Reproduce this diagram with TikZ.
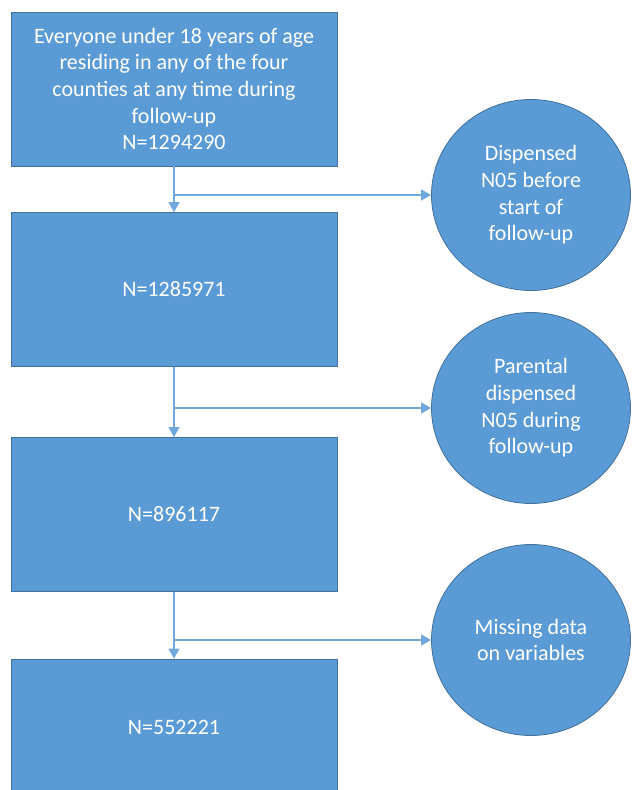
\documentclass[tikz,border=0pt]{standalone}
\usepackage{fontspec}
\setmainfont{Carlito}
\usetikzlibrary{arrows.meta,shapes.geometric}

\definecolor{boxfill}{HTML}{5B9BD5}
\definecolor{boxline}{HTML}{41719C}
\definecolor{flowline}{HTML}{6FA8DC}

\tikzset{
  stagebox/.style={draw=boxline, fill=boxfill, text=white, line width=0.8pt,
    minimum width=326pt, minimum height=154pt, inner sep=0pt, align=center,
    font=\fontsize{22}{26.7}\selectfont},
  exclusion/.style={ellipse, draw=boxline, fill=boxfill, text=white, line width=0.8pt,
    minimum width=199pt, minimum height=191pt, inner sep=0pt, align=center,
    font=\fontsize{22}{26.7}\selectfont},
  flow/.style={draw=flowline, line width=1.2pt, -{Triangle[length=10pt,width=11pt]}}
}

\begin{document}
\begin{tikzpicture}[x=1pt,y=1pt]
  \clip (0,0) rectangle (632,-790);
  \useasboundingbox (0,0) rectangle (632,-790);

  % cohort boxes
  \node[stagebox] (everyone) at (174,-89) {Everyone under 18 years of age\\residing in any of the four\\counties at any time during\\follow-up\\N=1294290};
  \node[stagebox] (afterbefore) at (174,-289.5) {N=1285971};
  \node[stagebox] (afterparental) at (174,-514.5) {N=896117};
  \node[stagebox, minimum height=136pt] (final) at (174,-727) {N=552221};

  % exclusions
  \node[exclusion] (before) at (531,-195) {Dispensed\\N05 before\\start of\\follow-up};
  \node[exclusion] (parental) at (531,-408) {Parental\\dispensed\\N05 during\\follow-up};
  \node[exclusion] (missing) at (531,-640) {Missing data\\on variables};

  \draw[flow] (everyone) -- (afterbefore);
  \draw[flow] (everyone.south |- before.west) -- (before);
  \draw[flow] (afterbefore) -- (afterparental);
  \draw[flow] (afterbefore.south |- parental.west) -- (parental);
  \draw[flow] (afterparental) -- (final);
  \draw[flow] (afterparental.south |- missing.west) -- (missing);
\end{tikzpicture}
\end{document}
